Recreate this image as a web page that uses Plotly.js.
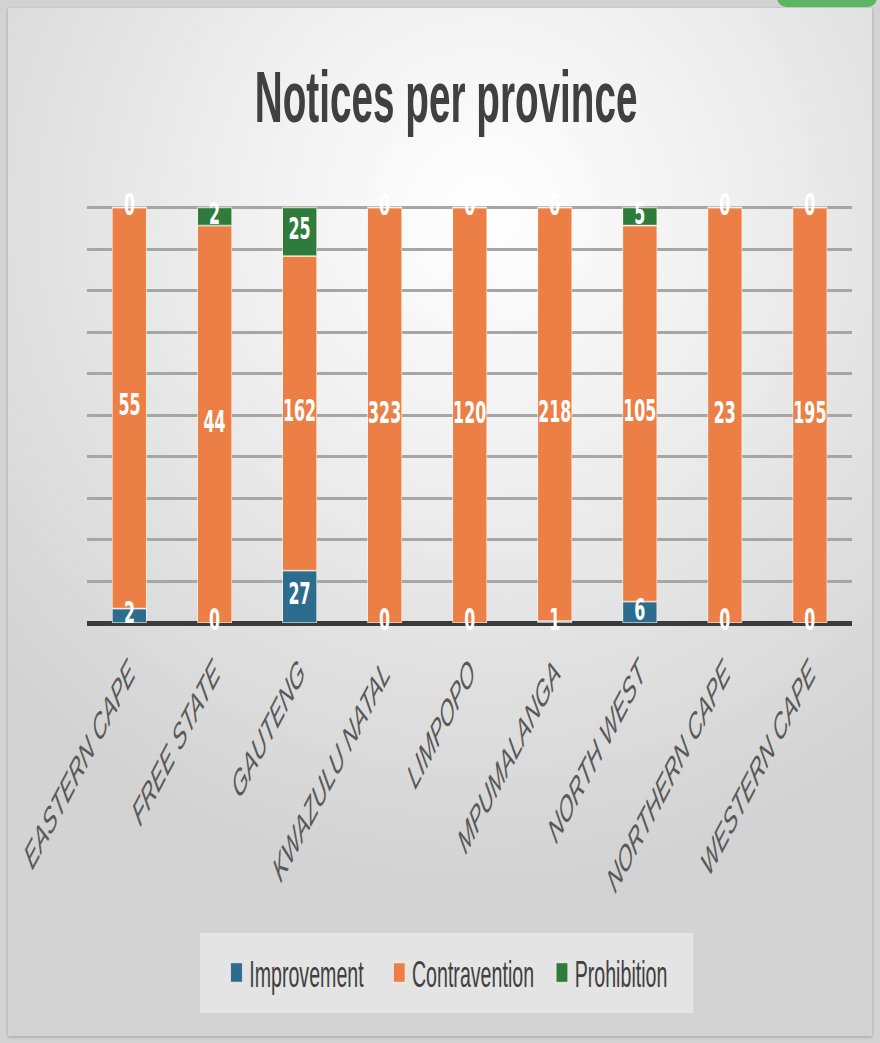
<!DOCTYPE html>
<html>
<head>
<meta charset="utf-8">
<script src="https://cdn.plot.ly/plotly-3.0.1.min.js"></script>
<style>
  html, body { margin:0; padding:0; width:880px; height:1043px; overflow:hidden; background:#d3d3d3; }
  #panel { position:absolute; left:8px; top:8px; width:864px; height:1028px;
    background: radial-gradient(ellipse 75% 65% at 55% 20%, #ffffff 0%, #f1f1f1 35%, #e0e0e0 70%, #d3d3d3 100%);
    box-shadow: 0 1px 3px rgba(0,0,0,0.25); }
  #blob { position:absolute; left:777px; top:-12px; width:100px; height:19px; background:#5db462; border-radius:14px; }
  #chart { position:absolute; left:0; top:0; width:1660px; height:1043px; transform: scaleX(0.53012); transform-origin: 0 0; }
</style>
</head>
<body>
<div id="panel"></div>
<div id="blob"></div>
<div id="chart"></div>
<script>
const provinces = ["EASTERN CAPE","FREE STATE","GAUTENG","KWAZULU NATAL","LIMPOPO","MPUMALANGA","NORTH WEST","NORTHERN CAPE","WESTERN CAPE"];
const improvement  = [2, 0, 27, 0, 0, 1, 6, 0, 0];
const contravention = [55, 44, 162, 323, 120, 218, 105, 23, 195];
const prohibition  = [0, 2, 25, 0, 0, 0, 5, 0, 0];
const seriesNames = ["Improvement","Contravention","Prohibition"];
const seriesColors = ["#2c6d8f","#eb7f45","#2e7b3b"];

const series = [improvement, contravention, prohibition];
const totals = provinces.map((p,i)=> improvement[i]+contravention[i]+prohibition[i]);

const traces = [];
series.forEach((vals, s) => {
  traces.push({
    type:'bar', name: seriesNames[s], x: provinces, y: vals,
    marker:{color: seriesColors[s], line:{color:'rgba(255,245,235,0.75)', width:1.5}},
    hoverinfo:'skip'
  });
});

// data labels centred in each (normalised) segment
const lx = [], ly = [], lt = [];
series.forEach((vals, s) => {
  provinces.forEach((p, i) => {
    let base = 0;
    for (let k = 0; k < s; k++) base += series[k][i];
    const mid = (base + vals[i] / 2) / totals[i] * 100;
    lx.push(p); ly.push(mid); lt.push(String(vals[i]));
  });
});
traces.push({
  type:'scatter', mode:'text', x: lx, y: ly, text: lt, showlegend:false,
  textposition:'middle center', cliponaxis:false, hoverinfo:'skip',
  textfont:{family:'DejaVu Sans', size:30, color:'#ffffff', weight:'bold'}
});

const plotTop = 205, plotBottom = 623, L = 164, R = 52, Wd = 1660;
const plotH = 1043 - plotTop - (1043 - plotBottom);
const plotW = Wd - L - R;

const layout = {
  width: Wd, height: 1043,
  paper_bgcolor:'rgba(0,0,0,0)', plot_bgcolor:'rgba(0,0,0,0)',
  margin:{l:L, r:R, t:plotTop, b:1043-plotBottom, pad:0},
  barmode:'stack', barnorm:'percent', bargap:0.6,
  showlegend:true,
  title:{text:'Notices per province', x:0.507, xanchor:'center', y:1-96/1043, yanchor:'middle',
    font:{family:'Liberation Sans, Arial, sans-serif', size:73, color:'#404040', weight:'bold'}},
  xaxis:{type:'category', tickangle:-45, showgrid:false, showline:false, ticks:'', zeroline:false,
    ticklabelstandoff:20,
    tickfont:{family:'Liberation Sans, Arial, sans-serif', size:36, color:'#595959', style:'italic'}},
  yaxis:{range:[0,100.6], tick0:0, dtick:10, showticklabels:false, ticks:'',
    showgrid:true, gridcolor:'#a6a6a6', gridwidth:3,
    zeroline:true, zerolinecolor:'#3b3b3b', zerolinewidth:5, showline:false},
  legend:{orientation:'h', xref:'container', yref:'container', x:0.5365, xanchor:'center', y:1-973/1043, yanchor:'middle',
    bgcolor:'rgba(0,0,0,0)', traceorder:'normal', entrywidth:262,
    font:{family:'Liberation Sans, Arial, sans-serif', size:37, color:'#404040'}},
  shapes:[{type:'rect', xref:'paper', yref:'paper', layer:'below',
    x0:(377-L)/plotW, x1:(1308-L)/plotW, y0:(plotBottom-1013)/plotH, y1:(plotBottom-933)/plotH,
    fillcolor:'#e4e4e4', line:{width:0}}]
};

Plotly.newPlot('chart', traces, layout, {staticPlot:true, displayModeBar:false, responsive:false}).then(gd => {
  // enlarge legend colour swatches to match the reference
  gd.querySelectorAll('.legend .legendpoints path').forEach(p => p.setAttribute('d', 'M7,10H-15V-10H7Z'));
});
</script>
</body>
</html>
